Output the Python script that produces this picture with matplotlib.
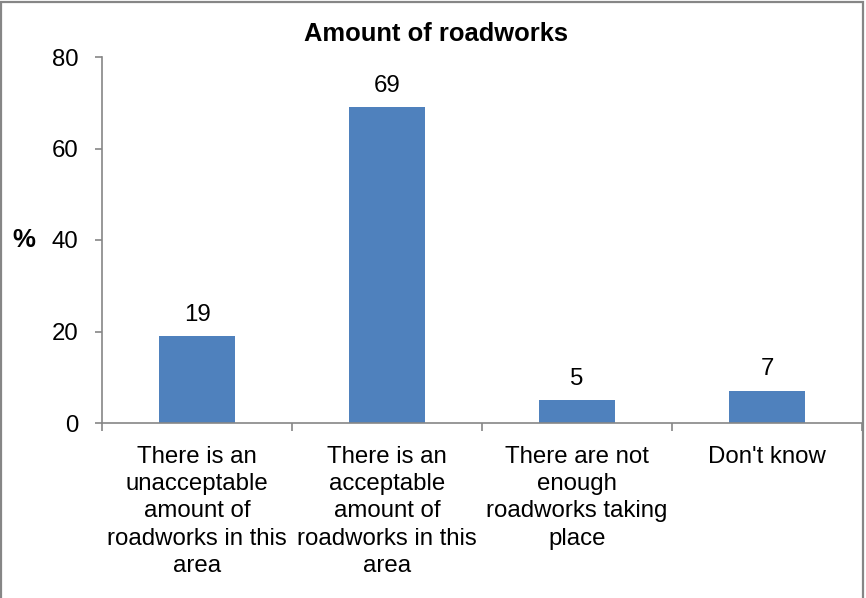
import matplotlib
matplotlib.use("Agg")
import matplotlib.pyplot as plt
from matplotlib.patches import Rectangle
import numpy as np

categories = [
    "There is an\nunacceptable\namount of\nroadworks in this\narea",
    "There is an\nacceptable\namount of\nroadworks in this\narea",
    "There are not\nenough\nroadworks taking\nplace",
    "Don't know",
]
values = [19, 69, 5, 7]
yticks = [0, 20, 40, 60, 80]
title = "Amount of roadworks"
ylabel = "%"

plt.rcParams['font.family'] = ['Liberation Sans', 'DejaVu Sans']
W, H = 866, 598
fig = plt.figure(figsize=(W / 100, H / 100), dpi=100)
fig.patch.set_facecolor('white')

ax = fig.add_axes([102 / W, 1 - 423 / H, (862 - 102) / W, (423 - 57) / H])
x = np.arange(len(values))
bars = ax.bar(x, values, width=0.395, color='#4F81BD', zorder=2)
ax.set_xlim(-0.5, len(values) - 0.5)
ax.set_ylim(0, 80)

grey = '#868686'
for s in ['top', 'right']:
    ax.spines[s].set_visible(False)
for s in ['left', 'bottom']:
    ax.spines[s].set_color(grey)
    ax.spines[s].set_linewidth(1.2)

fs = 17.3
ax.set_yticks(yticks)
ax.set_yticklabels([str(v) for v in yticks], fontsize=fs)
ax.tick_params(axis='y', direction='out', length=5, width=1.2, color=grey, pad=12)

ax.set_xticks(x)
ax.set_xticklabels(categories, fontsize=fs, linespacing=1.31)
ax.set_xticks(np.arange(-0.5, len(values)), minor=True)
ax.tick_params(axis='x', which='major', length=0, pad=16.5)
ax.tick_params(axis='x', which='minor', direction='out', length=5.5, width=1.2, color=grey)

for xi, v in zip(x, values):
    ax.annotate(str(v), (xi, v), xytext=(0, 11.2), textcoords='offset points',
                ha='center', va='baseline', fontsize=fs)

fig.text(435.5 / W, 1 - 41 / H, title, ha='center', va='baseline',
         fontsize=18.4, fontweight='bold')
fig.text(24 / W, 1 - 240 / H, ylabel, ha='center', va='center',
         fontsize=18.5, fontweight='bold')

fig.patches.append(Rectangle((1 / W, -0.05), (862.5 - 1) / W, 1.05 - 2 / H,
                             transform=fig.transFigure, fill=False,
                             edgecolor=grey, linewidth=1.6, clip_on=False))

fig.savefig('out.png', dpi=100)
